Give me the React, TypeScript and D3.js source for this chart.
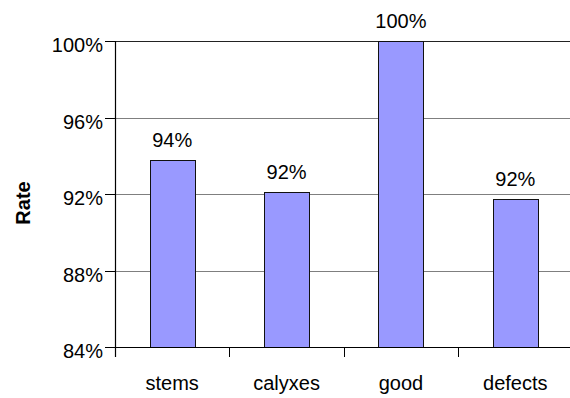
import React from "react";
import * as d3 from "d3";

const categories = ["stems", "calyxes", "good", "defects"];
const values = [93.8, 92.1, 100, 91.75];
const yTicks = [84, 88, 92, 96, 100];

const W = 570;
const H = 398;
const FONT = "'Liberation Sans', Arial, Helvetica, sans-serif";

export default function App() {
  const left = 115;
  const right = 572.5;
  const top = 41;
  const bottom = 347;

  const y = d3.scaleLinear().domain([84, 100]).range([bottom, top]);
  const x = d3
    .scaleBand<string>()
    .domain(categories)
    .range([left, right])
    .paddingInner(0.607)
    .paddingOuter(0.3035);
  const step = x.step();
  const x0 = x.range()[0];

  return (
    <svg
      width={W}
      height={H}
      style={{ position: "absolute", left: 0, top: 0, background: "#fff" }}
      fontFamily={FONT}
    >
      {/* gridlines */}
      {yTicks.map((t) => (
        <line
          key={"g" + t}
          x1={left}
          x2={right}
          y1={Math.round(y(t)) + 0.5}
          y2={Math.round(y(t)) + 0.5}
          stroke={t === 100 ? "#222" : "#7f7f7f"}
          strokeWidth={1}
        />
      ))}
      {/* bars */}
      {categories.map((c, i) => (
        <rect
          key={c}
          x={Math.round(x(c)!) + 0.5}
          y={Math.round(y(values[i])) + 0.5}
          width={Math.round(x.bandwidth())}
          height={Math.round(bottom - y(values[i]))}
          fill="#9999ff"
          stroke="#111"
          strokeWidth={1}
        />
      ))}
      {/* value labels */}
      {categories.map((c, i) => (
        <text
          key={"v" + c}
          x={x(c)! + x.bandwidth() / 2}
          y={y(values[i]) - 13}
          textAnchor="middle"
          fontSize={20}
          fill="#000"
        >
          {Math.round(values[i]) + "%"}
        </text>
      ))}
      {/* y axis */}
      <line x1={left + 0.5} x2={left + 0.5} y1={top} y2={bottom + 10} stroke="#000" strokeWidth={1.2} />
      {yTicks.map((t) => (
        <g key={"t" + t}>
          <line
            x1={left - 10}
            x2={left}
            y1={Math.round(y(t)) + 0.5}
            y2={Math.round(y(t)) + 0.5}
            stroke="#000"
          />
          <text x={left - 12} y={y(t) + 11} textAnchor="end" fontSize={20} fill="#000">
            {t + "%"}
          </text>
        </g>
      ))}
      {/* x axis */}
      <line x1={left} x2={right} y1={bottom + 0.5} y2={bottom + 0.5} stroke="#000" strokeWidth={1.2} />
      {d3.range(categories.length + 1).map((i) => (
        <line
          key={"xt" + i}
          x1={Math.round(x0 + i * step) + 0.5}
          x2={Math.round(x0 + i * step) + 0.5}
          y1={bottom}
          y2={bottom + 10}
          stroke="#000"
        />
      ))}
      {categories.map((c) => (
        <text
          key={"c" + c}
          x={x(c)! + x.bandwidth() / 2}
          y={bottom + 43}
          textAnchor="middle"
          fontSize={20}
          fill="#000"
        >
          {c}
        </text>
      ))}
      {/* y title */}
      <text
        transform={`translate(30, ${(top + bottom) / 2 + 9}) rotate(-90)`}
        textAnchor="middle"
        fontSize={20}
        fontWeight="bold"
        fill="#000"
      >
        Rate
      </text>
    </svg>
  );
}
